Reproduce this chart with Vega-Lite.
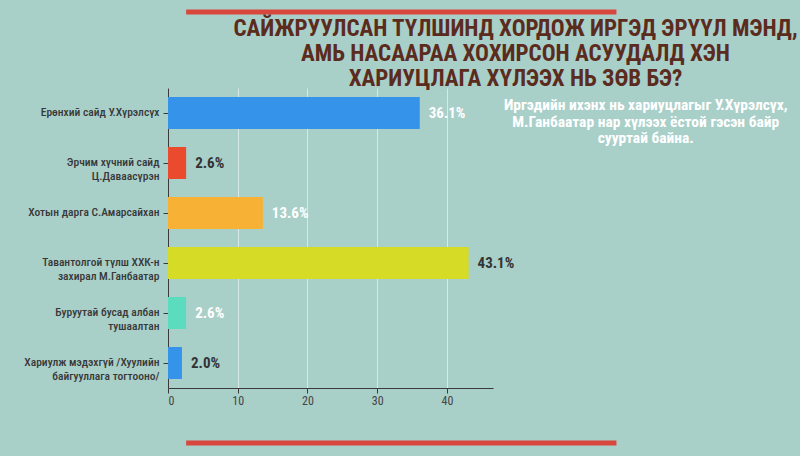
{
  "$schema": "https://vega.github.io/schema/vega-lite/v6.json",
  "autosize": "none",
  "width": 325,
  "height": 300,
  "padding": {"left": 168, "top": 88, "right": 307, "bottom": 68},
  "background": "#a9cfc9",
  "config": {
    "view": {"stroke": null},
    "font": "Liberation Sans Narrow, Roboto Condensed, DejaVu Sans Condensed, sans-serif"
  },
  "title": {
    "text": [
      "САЙЖРУУЛСАН ТҮЛШИНД ХОРДОЖ ИРГЭД ЭРҮҮЛ МЭНД,",
      "АМЬ НАСААРАА ХОХИРСОН АСУУДАЛД ХЭН",
      "ХАРИУЦЛАГА ХҮЛЭЭХ НЬ ЗӨВ БЭ?"
    ],
    "anchor": "middle",
    "dx": 185,
    "offset": -81,
    "fontSize": 23,
    "lineHeight": 25,
    "fontWeight": "bold",
    "color": "#5b2b1d",
    "font": "Liberation Sans Narrow, Roboto Condensed, DejaVu Sans Condensed, sans-serif"
  },
  "datasets": {
    "answers": [
      {"category": "Ерөнхий сайд У.Хүрэлсүх", "share": 36.1, "label": "36.1%"},
      {"category": "Эрчим хүчний сайд\nЦ.Даваасүрэн", "share": 2.6, "label": "2.6%"},
      {"category": "Хотын дарга С.Амарсайхан", "share": 13.6, "label": "13.6%"},
      {"category": "Тавантолгой түлш ХХК-н\nзахирал М.Ганбаатар", "share": 43.1, "label": "43.1%"},
      {"category": "Буруутай бусад албан\nтушаалтан", "share": 2.6, "label": "2.6%"},
      {"category": "Хариулж мэдэхгүй /Хуулийн\nбайгууллага тогтооно/", "share": 2.0, "label": "2.0%"}
    ],
    "note": [
      {"category": "Ерөнхий сайд У.Хүрэлсүх", "x": 68.5, "text": "Иргэдийн ихэнх нь хариуцлагыг У.Хүрэлсүх,\nМ.Ганбаатар нар хүлээх ёстой гэсэн байр\nсууртай байна."}
    ],
    "frame": [
      {"from": 2.6, "to": 64.3, "level": 1.253},
      {"from": 2.6, "to": 64.3, "level": -0.183}
    ]
  },
  "data": {"name": "answers"},
  "resolve": {"scale": {"y": "independent"}},
  "layer": [
    {
      "mark": {"type": "bar"},
      "encoding": {
        "y": {
          "field": "category",
          "type": "nominal",
          "sort": null,
          "scale": {"paddingInner": 0.36, "paddingOuter": 0.18},
          "axis": {
            "title": null,
            "labelExpr": "split(datum.label, '\\n')",
            "labelFontSize": 11.5,
            "labelFontWeight": 500,
            "labelLineHeight": 14,
            "labelColor": "#383838",
            "labelPadding": 4,
            "labelLimit": 200,
            "domainColor": "#3a3a3a",
            "tickColor": "#3a3a3a",
            "tickSize": 5,
            "grid": false
          }
        },
        "x": {
          "field": "share",
          "type": "quantitative",
          "scale": {"domain": [0, 46.6], "nice": false},
          "axis": {
            "title": null,
            "values": [0, 10, 20, 30, 40],
            "labelFontSize": 12,
            "labelColor": "#444444",
            "domainColor": "#3a3a3a",
            "tickColor": "#3a3a3a",
            "tickSize": 5,
            "gridColor": "#e6f1ee",
            "gridOpacity": 0.75
          }
        },
        "color": {
          "field": "category",
          "type": "nominal",
          "legend": null,
          "scale": {
            "domain": [
              "Ерөнхий сайд У.Хүрэлсүх",
              "Эрчим хүчний сайд\nЦ.Даваасүрэн",
              "Хотын дарга С.Амарсайхан",
              "Тавантолгой түлш ХХК-н\nзахирал М.Ганбаатар",
              "Буруутай бусад албан\nтушаалтан",
              "Хариулж мэдэхгүй /Хуулийн\nбайгууллага тогтооно/"
            ],
            "range": ["#3593ea", "#ea4a2e", "#f7b134", "#d6dc25", "#5cdcbf", "#3593ea"]
          }
        }
      }
    },
    {
      "mark": {"type": "text", "align": "left", "baseline": "middle", "dx": 9, "fontSize": 15, "fontWeight": "bold"},
      "encoding": {
        "y": {"field": "category", "type": "nominal", "sort": null, "axis": null, "scale": {"paddingInner": 0.36, "paddingOuter": 0.18}},
        "x": {"field": "share", "type": "quantitative"},
        "text": {"field": "label"},
        "color": {
          "condition": {
            "test": "datum.share == 36.1 || datum.share == 13.6 || datum.category == 'Буруутай бусад албан\\nтушаалтан'",
            "value": "#ffffff"
          },
          "value": "#333333"
        }
      }
    },
    {
      "data": {"name": "note"},
      "mark": {"type": "text", "align": "center", "baseline": "middle", "dy": -8, "fontSize": 15.5, "fontWeight": "bold", "lineHeight": 16.5, "color": "#ffffff", "lineBreak": "\n"},
      "encoding": {
        "y": {"field": "category", "type": "nominal", "axis": null, "scale": {"domain": ["Ерөнхий сайд У.Хүрэлсүх", "Эрчим хүчний сайд\nЦ.Даваасүрэн", "Хотын дарга С.Амарсайхан", "Тавантолгой түлш ХХК-н\nзахирал М.Ганбаатар", "Буруутай бусад албан\nтушаалтан", "Хариулж мэдэхгүй /Хуулийн\nбайгууллага тогтооно/"], "paddingInner": 0.36, "paddingOuter": 0.18}},
        "x": {"field": "x", "type": "quantitative"},
        "text": {"field": "text"}
      }
    },
    {
      "data": {"name": "frame"},
      "mark": {"type": "rule", "color": "#d8473c", "strokeWidth": 5, "clip": false},
      "encoding": {
        "x": {"field": "from", "type": "quantitative"},
        "x2": {"field": "to"},
        "y": {"field": "level", "type": "quantitative", "scale": {"domain": [0, 1], "nice": false, "zero": false}, "axis": null}
      }
    }
  ]
}
